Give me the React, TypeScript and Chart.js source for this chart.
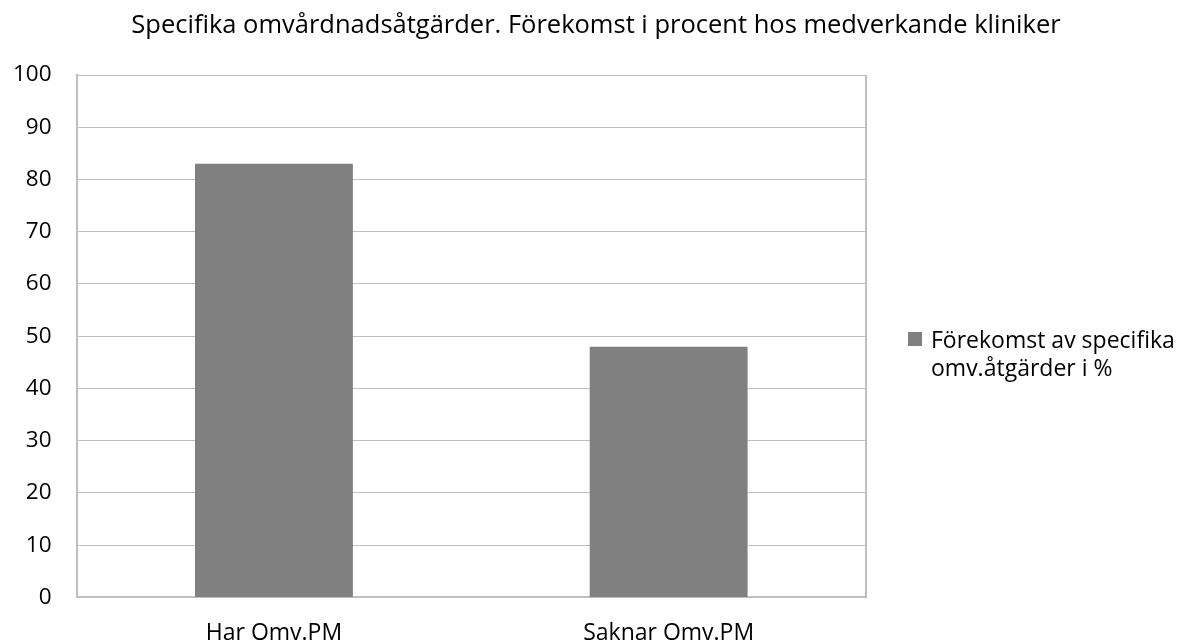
import React, { useEffect, useRef } from "react";
import { Chart, registerables } from "chart.js";

Chart.register(...registerables);

const TITLE = "Specifika omvårdnadsåtgärder. Förekomst i procent hos medverkande kliniker";
const CATEGORIES = ["Har Omv.PM", "Saknar Omv.PM"];
const SERIES_LABEL = "Förekomst av specifika omv.åtgärder i %";
const LEGEND_LINES = ["Förekomst av specifika", "omv.åtgärder i %"];
const VALUES = [83, 48];
const Y_MIN = 0;
const Y_MAX = 100;
const Y_STEP = 10;

const FONT = "'Open Sans', 'Noto Sans', sans-serif";
const BAR_COLOR = "#808080";
const GRID_COLOR = "#bfbfbf";

const rightBorder = {
  id: "rightBorder",
  afterDraw(chart: any) {
    const { ctx, chartArea } = chart;
    ctx.save();
    ctx.strokeStyle = GRID_COLOR;
    ctx.lineWidth = 2;
    ctx.beginPath();
    ctx.moveTo(chartArea.right, chartArea.top);
    ctx.lineTo(chartArea.right, chartArea.bottom + 1);
    ctx.stroke();
    ctx.restore();
  },
};

export default function App() {
  const ref = useRef<HTMLCanvasElement | null>(null);

  useEffect(() => {
    if (!ref.current) return;
    const chart = new Chart(ref.current, {
      type: "bar",
      data: {
        labels: CATEGORIES,
        datasets: [
          {
            label: SERIES_LABEL,
            data: VALUES,
            backgroundColor: BAR_COLOR,
            borderWidth: 0,
            barPercentage: 0.4,
            categoryPercentage: 1,
          },
        ],
      },
      options: {
        animation: false,
        responsive: false,
        maintainAspectRatio: false,
        layout: { padding: { left: -12, right: 314, top: 75, bottom: -26 } },
        plugins: {
          legend: { display: false },
          title: { display: false },
          tooltip: { enabled: false },
        },
        scales: {
          x: {
            grid: { display: false, drawTicks: false },
            border: { display: true, color: GRID_COLOR, width: 2 },
            ticks: {
              color: "#000",
              padding: 22,
              font: { family: FONT, size: 23 },
            },
          },
          y: {
            min: Y_MIN,
            max: Y_MAX,
            grid: { color: GRID_COLOR, lineWidth: 1, drawTicks: false },
            border: { display: true, color: GRID_COLOR, width: 2 },
            ticks: {
              stepSize: Y_STEP,
              color: "#000",
              padding: 25,
              font: { family: FONT, size: 22.5 },
            },
          },
        },
      },
      plugins: [rightBorder],
    });
    return () => chart.destroy();
  }, []);

  return (
    <div style={{ position: "fixed", left: 0, top: 0, width: 1180, height: 643, background: "#fff", overflow: "hidden" }}>
      <canvas ref={ref} width={1180} height={643} style={{ position: "absolute", left: 0, top: 0 }} />
      <div
        style={{
          position: "absolute",
          left: 0,
          top: 8,
          width: 1192,
          textAlign: "center",
          fontFamily: FONT,
          fontSize: 25.5,
          lineHeight: "31px",
          color: "#000",
          whiteSpace: "nowrap",
        }}
      >
        {TITLE}
      </div>
      <div
        style={{
          position: "absolute",
          left: 908,
          top: 332,
          width: 14,
          height: 14,
          background: BAR_COLOR,
        }}
      />
      <div
        style={{
          position: "absolute",
          left: 931,
          top: 325,
          fontFamily: FONT,
          fontSize: 23,
          lineHeight: "28px",
          color: "#000",
          whiteSpace: "nowrap",
        }}
      >
        {LEGEND_LINES.map((l, i) => (
          <div key={i}>{l}</div>
        ))}
      </div>
    </div>
  );
}
